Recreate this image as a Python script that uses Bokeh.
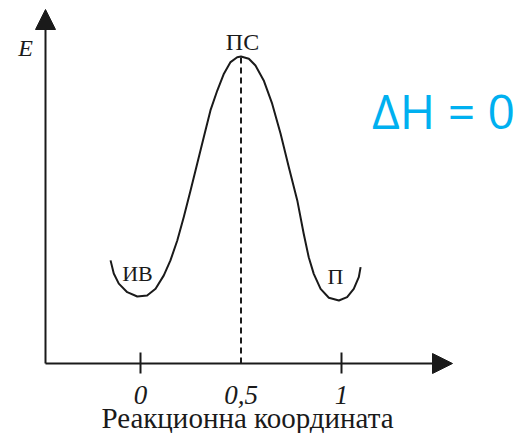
from bokeh.plotting import figure
from bokeh.models import Range1d, Arrow, NormalHead
from bokeh.core.properties import value
from bokeh.embed import file_html
from bokeh.resources import INLINE

# Reaction coordinate profile
coord = [-0.149, -0.133, -0.108, -0.066, -0.016, 0.033, 0.075, 0.116, 0.149, 0.183,
         0.215, 0.249, 0.282, 0.315, 0.348, 0.382, 0.415, 0.448, 0.481, 0.500,
         0.539, 0.572, 0.613, 0.655, 0.697, 0.738, 0.780, 0.812, 0.837, 0.862,
         0.896, 0.937, 0.987, 1.028, 1.061, 1.086, 1.095]
energy = [0.337, 0.294, 0.261, 0.233, 0.219, 0.222, 0.244, 0.288, 0.337, 0.402,
          0.478, 0.565, 0.653, 0.740, 0.827, 0.892, 0.947, 0.985, 1.001, 1.003,
          0.996, 0.974, 0.925, 0.849, 0.751, 0.641, 0.533, 0.424, 0.347, 0.293,
          0.244, 0.215, 0.206, 0.217, 0.244, 0.282, 0.315]

tick_values = [0, 0.5, 1]
tick_labels = ["0", "0,5", "1"]
tick_marks = [0, 1]

state_labels = ["ИВ", "ПС", "П"]
x_title = "Реакционна координата"
y_title = "E"
dh_text = "ΔH = 0"

W, H = 524, 433
# pixel -> data helpers (window pixels)
def X(px):
    return (px - 140) / 201.0

def Y(py):
    return (363 - py) / 306.0

p = figure(width=W, height=H, output_backend="svg", toolbar_location=None,
           x_range=Range1d(X(0), X(W)), y_range=Range1d(Y(H), Y(0)),
           min_border=0)
p.axis.visible = False
p.grid.visible = False
p.outline_line_color = None
p.background_fill_color = "white"

ink = "#1a1a1a"

# axes as arrows
p.add_layout(Arrow(end=NormalHead(size=20, fill_color=ink, line_color=ink),
                   x_start=X(45), y_start=0, x_end=X(452), y_end=0,
                   line_width=2, line_color=ink))
p.add_layout(Arrow(end=NormalHead(size=20, fill_color=ink, line_color=ink),
                   x_start=X(45), y_start=0, x_end=X(45), y_end=Y(9),
                   line_width=2, line_color=ink))

# tick marks
p.segment(x0=tick_marks, y0=[Y(352)] * len(tick_marks), x1=tick_marks,
          y1=[Y(373)] * len(tick_marks), line_width=2, line_color=ink)

# dashed line at transition state
peak_i = energy.index(max(energy))
p.line([coord[peak_i], coord[peak_i]], [0, energy[peak_i]], line_dash="6 4",
       line_width=2, line_color=ink)

# energy curve
p.line(coord, energy, line_width=2, line_color=ink, line_join="round")

serif = value("Liberation Serif")
p.text(x=tick_values, y=[Y(394)] * 3, text=tick_labels, text_font=serif,
       text_font_style="italic", text_font_size="27px", text_align="center",
       text_baseline="alphabetic", text_color=ink)

p.text(x=[X(247)], y=[Y(417.5)], text=[x_title], text_font=serif,
       text_font_size="29px", text_align="center",
       text_baseline="alphabetic", text_color=ink)
p.text(x=[X(25)], y=[Y(47.7)], text=[y_title], text_font=serif,
       text_font_style="italic", text_font_size="24px",
       text_align="center", text_baseline="alphabetic", text_color=ink)

p.text(x=[X(242)], y=[Y(41.5)], text=[state_labels[1]], text_font=serif,
       text_font_size="24px", text_align="center", text_baseline="alphabetic",
       text_color=ink)
p.text(x=[X(137), X(335)], y=[Y(273), Y(275.5)],
       text=[state_labels[0], state_labels[2]], text_font=serif,
       text_font_size="22px", text_align="center", text_baseline="alphabetic",
       text_color=ink)

p.text(x=[X(443)], y=[Y(110)], text=[dh_text], text_font=value("Open Sans"),
       text_font_size="48px", text_align="center",
       text_baseline="alphabetic", text_color="#00B0F0")

open("out.html", "w").write(file_html(p, INLINE))
